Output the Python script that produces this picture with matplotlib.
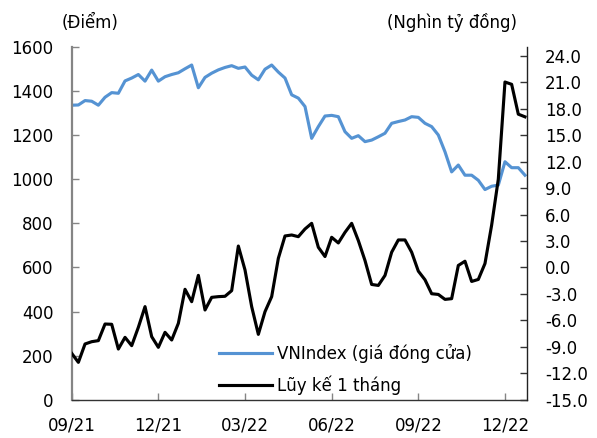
import numpy as np
import matplotlib
matplotlib.use("Agg")
import matplotlib.pyplot as plt

# weekly data, 09/2021 -> 12/2022
vnindex = [1335, 1336, 1356, 1353, 1335, 1371, 1392, 1389, 1445, 1458,
           1474, 1444, 1494, 1444, 1464, 1474, 1482, 1500, 1517, 1414,
           1461, 1480, 1495, 1506, 1514, 1502, 1508, 1471, 1450, 1498,
           1517, 1485, 1458, 1382, 1367, 1329, 1185, 1238, 1286, 1289,
           1283, 1215, 1185, 1197, 1170, 1177, 1192, 1208, 1253, 1261,
           1268, 1283, 1280, 1253, 1238, 1200, 1124, 1033, 1064, 1018,
           1018, 995, 953, 968, 973, 1079, 1052, 1052, 1018]
luy_ke = [-9.72, -10.74, -8.66, -8.40, -8.28, -6.40, -6.43, -9.23, -7.91, -8.85,
          -6.77, -4.43, -7.83, -9.04, -7.34, -8.21, -6.32, -2.47, -3.87, -0.89,
          -4.81, -3.38, -3.30, -3.26, -2.62, 2.43, -0.28, -4.43, -7.57, -5.00,
          -3.30, 1.04, 3.57, 3.68, 3.49, 4.36, 5.00, 2.29, 1.24, 3.42,
          2.78, 3.98, 5.00, 3.05, 0.79, -1.92, -2.03, -0.90, 1.73, 3.12,
          3.12, 1.73, -0.41, -1.39, -2.97, -3.05, -3.61, -3.53, 0.23, 0.71,
          -1.58, -1.35, 0.45, 4.8, 10.0, 21.0, 20.74, 17.36, 17.06]
tick_weeks = [0, 13, 26, 39, 52, 65]
tick_labels = ["09/21", "12/21", "03/22", "06/22", "09/22", "12/22"]

plt.rcParams['font.family'] = ['DejaVu Sans']
plt.rcParams['font.size'] = 12

blue = '#5593D3'
weeks = np.arange(len(vnindex))

fig = plt.figure(figsize=(5.97, 4.38), dpi=100)
ax = fig.add_axes([0.1201, 0.0868, 0.7626, 0.8066])
ax2 = ax.twinx()

l1, = ax.plot(weeks, vnindex, color=blue, lw=2.25, label='VNIndex (giá đóng cửa)')
l2, = ax2.plot(weeks, luy_ke, color='black', lw=2.25, label='Lũy kế 1 tháng')

ax.set_xlim(0, 68.3)
ax.set_ylim(0, 1600)
ax.set_yticks(np.arange(0, 1601, 200))
ax2.set_ylim(-15, 25)
ax2.set_yticks(np.arange(-15, 25, 3))
ax2.set_yticklabels([f"{v:.1f}" for v in np.arange(-15, 25, 3)])
ax.set_xticks(tick_weeks)
ax.set_xticklabels(tick_labels)

for a in (ax, ax2):
    a.spines['top'].set_visible(False)
ax.spines['right'].set_visible(False)
ax2.spines['left'].set_visible(False)
ax2.spines['bottom'].set_visible(False)
ax.spines['left'].set_color('#858585')
ax.spines['left'].set_linewidth(1.6)
ax.spines['bottom'].set_color('#333333')
ax.spines['bottom'].set_linewidth(1.0)
ax2.spines['right'].set_color('#222222')
ax2.spines['right'].set_linewidth(1.0)

ax.tick_params(axis='y', direction='in', length=5, width=1, color='#858585', pad=13)
ax.tick_params(axis='x', direction='in', length=5, width=1, color='#858585', pad=12)
ax2.tick_params(axis='y', direction='in', length=5, width=1, color='#333333', pad=13)

fig.text(90 / 597, 1 - 23 / 438, '(Điểm)', ha='center', va='center')
fig.text(452 / 597, 1 - 22 / 438, '(Nghìn tỷ đồng)', ha='center', va='center')

fig.legend([l1, l2], [l1.get_label(), l2.get_label()], loc='upper left',
           bbox_to_anchor=(219 / 597, 1 - 344 / 438), frameon=False,
           borderpad=0, borderaxespad=0, handlelength=3.2, handletextpad=0.3,
           labelspacing=0.72)

fig.savefig('out.png', dpi=100)
